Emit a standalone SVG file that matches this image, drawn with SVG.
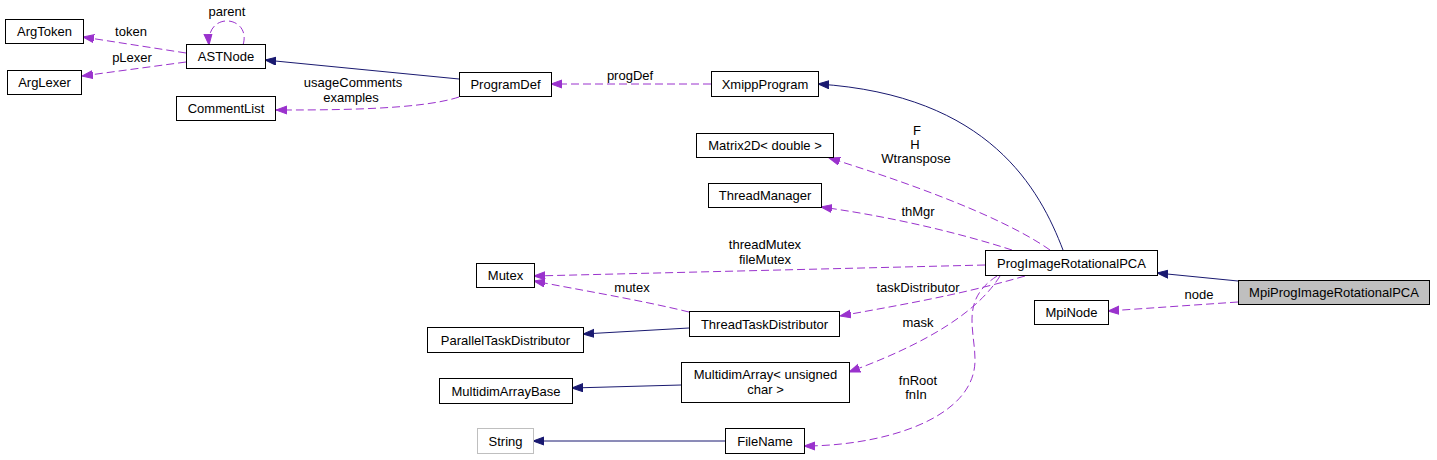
<svg xmlns="http://www.w3.org/2000/svg" width="1437" height="460" viewBox="0 0 1437 460">
<style>
text{font-family:"Liberation Sans",Arial,sans-serif;font-size:13px;fill:#000}
.n rect{fill:#fff;stroke:#000;stroke-width:1}
.n text{text-anchor:middle}
.l{text-anchor:middle}
.u{fill:none;stroke:#9a32cd;stroke-width:1;stroke-dasharray:8,4;marker-end:url(#ap)}
.i{fill:none;stroke:#191970;stroke-width:1;marker-end:url(#ai)}
</style>
<defs>
<marker id="ap" markerWidth="12" markerHeight="10" refX="11" refY="4.5" orient="auto" markerUnits="userSpaceOnUse"><path d="M0,0.5 L11,4.5 L0,8.5 z" fill="#9a32cd" stroke="#9a32cd"/></marker>
<marker id="ai" markerWidth="12" markerHeight="10" refX="11" refY="4.5" orient="auto" markerUnits="userSpaceOnUse"><path d="M0,0.5 L11,4.5 L0,8.5 z" fill="#191970" stroke="#191970"/></marker>
</defs>
<rect width="1437" height="460" fill="#fff"/>
<g id="edges">
<path class="u" d="M186,53 L83,37"/>
<path class="u" d="M186,62 L82,76"/>
<path class="u" d="M243,45 C252,16 206,10 209,45"/>
<path class="i" d="M459,79 L265,60"/>
<path class="u" d="M459,97 C420,110 330,110 276,110"/>
<path class="u" d="M711,84 L551,84"/>
<path class="i" d="M1063,250 C1040,190 990,95 818,84"/>
<path class="u" d="M1050,250 C1000,215 900,180 829,158"/>
<path class="u" d="M1012,250 C950,230 880,215 821,207"/>
<path class="u" d="M985,265 L534,276"/>
<path class="u" d="M689,312 C640,300 580,290 534,281"/>
<path class="u" d="M1025,276 C960,295 900,305 840,316"/>
<path class="i" d="M689,328 L583,334"/>
<path class="u" d="M1000,276 C985,300 950,335 849,372"/>
<path class="u" d="M997,276 C960,300 975,330 975,360 C975,420 880,446 804,446"/>
<path class="i" d="M681,385 L572,388"/>
<path class="i" d="M725,441 L533,441"/>
<path class="i" d="M1238,281 L1157,273"/>
<path class="u" d="M1238,302 L1108,311"/>
<text class="l" x="131" y="36">token</text>
<text class="l" x="132" y="62">pLexer</text>
<text class="l" x="227" y="16">parent</text>
<text class="l" x="353" y="87">usageComments</text>
<text class="l" x="351" y="102">examples</text>
<text class="l" x="630" y="80">progDef</text>
<text class="l" x="917" y="135">F</text>
<text class="l" x="915" y="149">H</text>
<text class="l" x="916" y="163">Wtranspose</text>
<text class="l" x="918" y="216">thMgr</text>
<text class="l" x="765" y="249">threadMutex</text>
<text class="l" x="765" y="264">fileMutex</text>
<text class="l" x="632" y="292">mutex</text>
<text class="l" x="918" y="292">taskDistributor</text>
<text class="l" x="918" y="327">mask</text>
<text class="l" x="918" y="385">fnRoot</text>
<text class="l" x="916" y="399">fnIn</text>
<text class="l" x="1199" y="299">node</text>
</g>
<g id="ArgToken" class="n"><rect x="5.5" y="19.5" width="78" height="24"/><text x="44.5" y="36">ArgToken</text></g>
<g id="ArgLexer" class="n"><rect x="7.5" y="70.5" width="74" height="24"/><text x="44.5" y="87">ArgLexer</text></g>
<g id="ASTNode" class="n"><rect x="186.5" y="44.5" width="79" height="24"/><text x="226" y="61">ASTNode</text></g>
<g id="CommentList" class="n"><rect x="176.5" y="96.5" width="99" height="24"/><text x="226" y="113">CommentList</text></g>
<g id="ProgramDef" class="n"><rect x="459.5" y="72.5" width="92" height="24"/><text x="505.5" y="89">ProgramDef</text></g>
<g id="XmippProgram" class="n"><rect x="711.5" y="71.5" width="107" height="25"/><text x="765" y="88.5">XmippProgram</text></g>
<g id="Matrix2D" class="n"><rect x="696.5" y="133.5" width="137" height="24"/><text x="765" y="150">Matrix2D&lt; double &gt;</text></g>
<g id="ThreadManager" class="n"><rect x="708.5" y="183.5" width="113" height="24"/><text x="765" y="200">ThreadManager</text></g>
<g id="Mutex" class="n"><rect x="476.5" y="263.5" width="58" height="24"/><text x="505.5" y="280">Mutex</text></g>
<g id="ProgImageRotationalPCA" class="n"><rect x="985.5" y="250.5" width="172" height="25"/><text x="1071.5" y="267.5">ProgImageRotationalPCA</text></g>
<g id="MpiNode" class="n"><rect x="1034.5" y="300.5" width="74" height="24"/><text x="1071.5" y="317">MpiNode</text></g>
<g id="MpiProgImageRotationalPCA" class="n"><rect x="1238.5" y="280.5" width="191" height="24" style="fill:#bfbfbf"/><text x="1334" y="297">MpiProgImageRotationalPCA</text></g>
<g id="ThreadTaskDistributor" class="n"><rect x="689.5" y="311.5" width="150" height="25"/><text x="764.5" y="328.5">ThreadTaskDistributor</text></g>
<g id="ParallelTaskDistributor" class="n"><rect x="427.5" y="327.5" width="156" height="25"/><text x="505.5" y="344.5">ParallelTaskDistributor</text></g>
<g id="MultidimArrayBase" class="n"><rect x="439.5" y="378.5" width="133" height="25"/><text x="506" y="395.5">MultidimArrayBase</text></g>
<g id="MultidimArray" class="n"><rect x="681.5" y="362.5" width="168" height="40"/><text x="765.5" y="379">MultidimArray&lt; unsigned</text><text x="765.5" y="394">char &gt;</text></g>
<g id="String" class="n"><rect x="477.5" y="428.5" width="56" height="25" style="stroke:#bfbfbf"/><text x="505.5" y="445.5">String</text></g>
<g id="FileName" class="n"><rect x="725.5" y="428.5" width="79" height="25"/><text x="765" y="445.5">FileName</text></g>
</svg>
